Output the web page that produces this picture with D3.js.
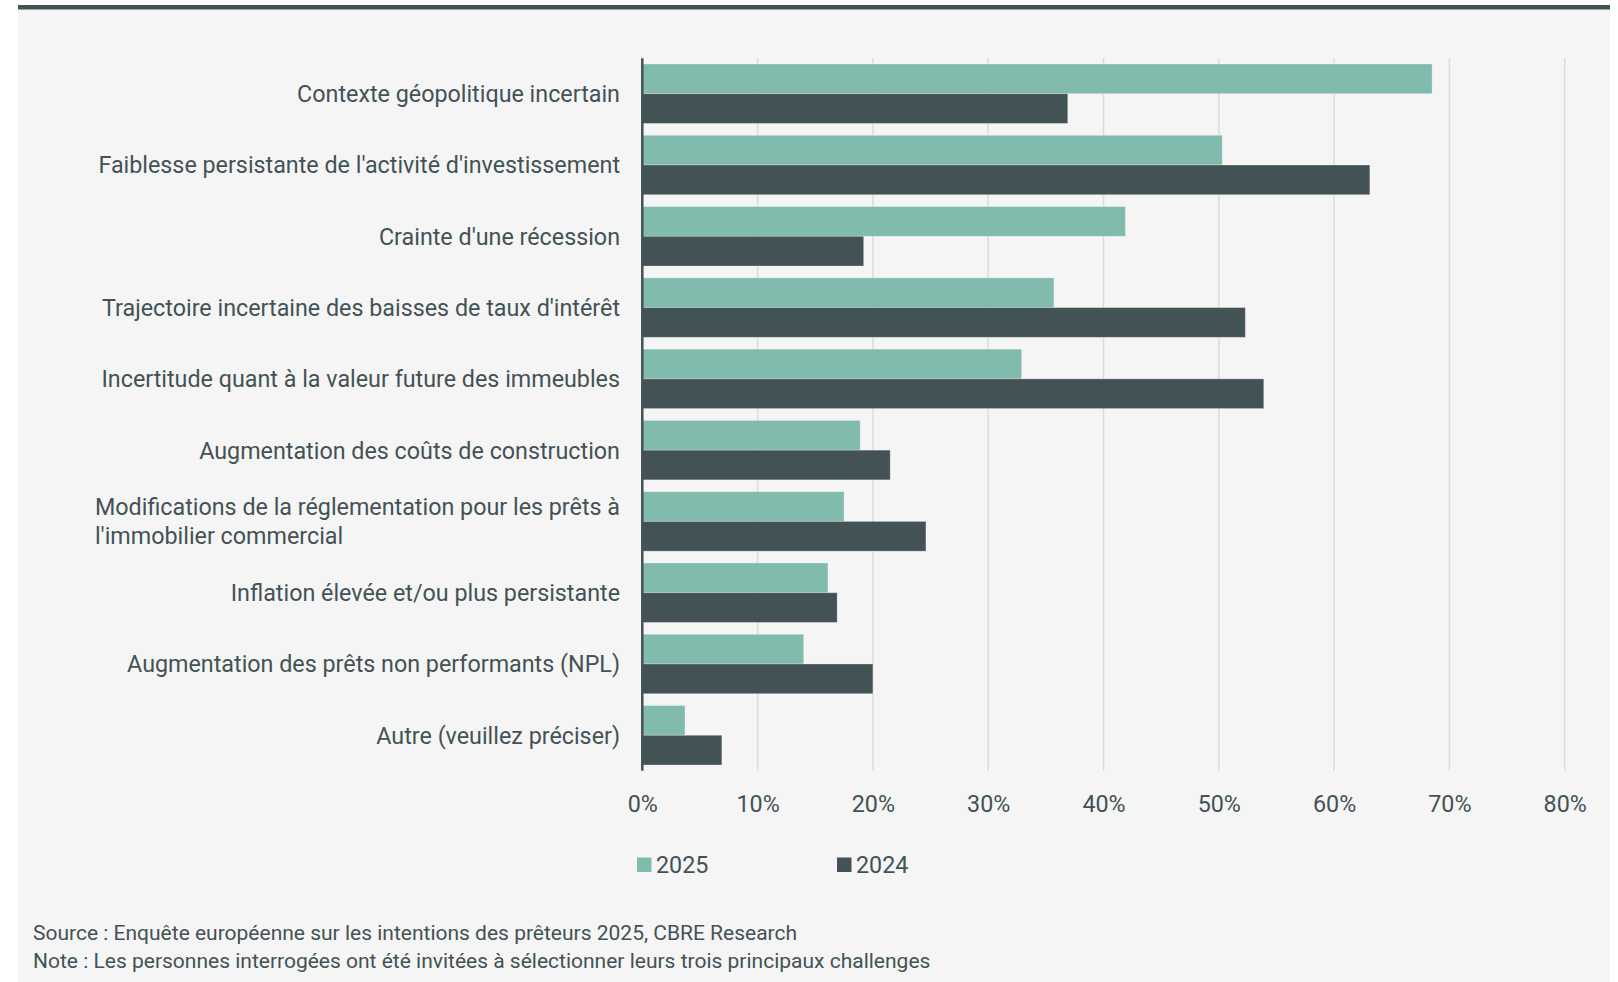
<!DOCTYPE html>
<html lang="fr">
<head>
<meta charset="utf-8">
<script src="https://cdn.jsdelivr.net/npm/d3@7"></script>
<style>
  html, body { margin: 0; padding: 0; background: #ffffff; }
  svg { display: block; }
  text { font-family: Roboto, "Noto Sans", sans-serif; fill: #435254; }
</style>
</head>
<body>
<svg id="chart" width="1618" height="982"></svg>
<script>
// Principaux challenges cités par les prêteurs (% des répondants)
const categories = [
  "Contexte géopolitique incertain",
  "Faiblesse persistante de l'activité d'investissement",
  "Crainte d'une récession",
  "Trajectoire incertaine des baisses de taux d'intérêt",
  "Incertitude quant à la valeur future des immeubles",
  "Augmentation des coûts de construction",
  "Modifications de la réglementation pour les prêts à l'immobilier commercial",
  "Inflation élevée et/ou plus persistante",
  "Augmentation des prêts non performants (NPL)",
  "Autre (veuillez préciser)"
];
// Lignes affichées pour les libellés trop longs
const categoryLines = {
  "Modifications de la réglementation pour les prêts à l'immobilier commercial":
    ["Modifications de la réglementation pour les prêts à", "l'immobilier commercial"]
};
const seriesNames = ["2025", "2024"];
const values2025 = [68.5, 50.3, 41.9, 35.7, 32.9, 18.9, 17.5, 16.1, 14.0, 3.7];
const values2024 = [36.9, 63.1, 19.2, 52.3, 53.9, 21.5, 24.6, 16.9, 20.0, 6.9];
const xTicks = [0, 10, 20, 30, 40, 50, 60, 70, 80];
const sourceText = "Source : Enquête européenne sur les intentions des prêteurs 2025, CBRE Research";
const noteText = "Note : Les personnes interrogées ont été invitées à sélectionner leurs trois principaux challenges";

const colors = { "2025": "#81bbad", "2024": "#435254" };
const ink = "#435254";

const svg = d3.select("#chart");

// Panneau de fond et filet supérieur
svg.append("rect").attr("x", 18).attr("y", 5).attr("width", 1592).attr("height", 977).attr("fill", "#f5f5f5");
svg.append("rect").attr("x", 18).attr("y", 5).attr("width", 1592).attr("height", 4.5).attr("fill", ink);

const x = d3.scaleLinear().domain([0, 80]).range([642.3, 1564.7]);
const y = d3.scaleBand().domain(categories).range([58.3, 770.7]).paddingInner(0.166).paddingOuter(0.08);
const ySub = d3.scaleBand().domain(seriesNames).range([0, y.bandwidth()]);

const rows = categories.map((c, i) => ({ cat: c, "2025": values2025[i], "2024": values2024[i] }));

// Grille verticale
svg.append("g")
  .selectAll("line")
  .data(xTicks.filter(t => t > 0))
  .join("line")
  .attr("x1", d => x(d)).attr("x2", d => x(d))
  .attr("y1", 58).attr("y2", 770.7)
  .attr("stroke", "#dcdcdc").attr("stroke-width", 1.5);

// Barres
const groups = svg.append("g")
  .selectAll("g")
  .data(rows)
  .join("g")
  .attr("transform", d => `translate(0,${y(d.cat)})`);

groups.selectAll("rect")
  .data(d => seriesNames.map(s => ({ s, v: d[s] })))
  .join("rect")
  .attr("x", x(0))
  .attr("y", d => ySub(d.s))
  .attr("width", d => x(d.v) - x(0))
  .attr("height", ySub.bandwidth())
  .attr("fill", d => colors[d.s])
  .attr("stroke", "rgba(255,255,255,0.35)")
  .attr("stroke-width", 0.8);

// Axe vertical
svg.append("line")
  .attr("x1", x(0)).attr("x2", x(0))
  .attr("y1", 58.3).attr("y2", 770.7)
  .attr("stroke", ink).attr("stroke-width", 2.5);

// Axe des abscisses (libellés seuls)
const xAxis = d3.axisBottom(x).tickValues(xTicks).tickFormat(d => d + "%").tickSize(0).tickPadding(0);
const gx = svg.append("g").attr("transform", "translate(0,795)").call(xAxis);
gx.select(".domain").remove();
gx.selectAll("text")
  .attr("font-size", 23.3)
  .attr("dy", "0.71em")
  .attr("fill", ink)
  .style("font-family", "Roboto, sans-serif");

// Libellés des catégories
const labelX = 620;
const lineH = 29;
categories.forEach(c => {
  const lines = categoryLines[c] || [c];
  const cy = y(c) + y.bandwidth() / 2;
  const t = svg.append("text")
    .attr("font-size", 23.3)
    .attr("fill", ink);
  if (lines.length === 1) {
    t.attr("x", labelX).attr("y", cy).attr("dy", "0.36em").attr("text-anchor", "end").text(c);
  } else {
    const first = t.append("tspan").text(lines[0]);
    const w = first.node().getComputedTextLength();
    const startX = labelX - w;
    const y0 = cy - (lines.length - 1) * lineH / 2;
    t.selectAll("tspan")
      .data(lines)
      .join("tspan")
      .attr("x", startX)
      .attr("y", (d, i) => y0 + i * lineH)
      .attr("dy", "0.36em")
      .text(d => d);
  }
});

// Légende
const legendItems = [{ s: "2025", x: 637 }, { s: "2024", x: 837 }];
const legend = svg.append("g");
legendItems.forEach(it => {
  legend.append("rect").attr("x", it.x).attr("y", 857.5).attr("width", 14.5).attr("height", 14.5).attr("fill", colors[it.s]);
  legend.append("text").attr("x", it.x + 19).attr("y", 865).attr("dy", "0.36em")
    .attr("font-size", 23.3).attr("fill", ink).text(it.s);
});

// Source et note
svg.append("text").attr("x", 33).attr("y", 932).attr("dy", "0.36em").attr("font-size", 21).text(sourceText);
svg.append("text").attr("x", 33).attr("y", 960).attr("dy", "0.36em").attr("font-size", 21).text(noteText);
</script>
</body>
</html>
